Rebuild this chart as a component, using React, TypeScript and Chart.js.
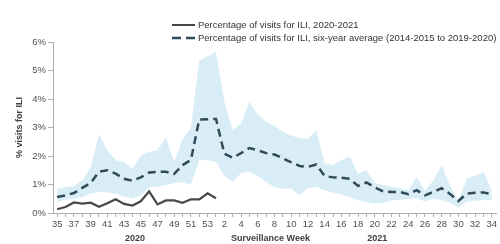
import React, { useEffect, useRef } from "react";
import { Chart, registerables } from "chart.js";

Chart.register(...registerables);

const weeks = [
  "35", "36", "37", "38", "39", "40", "41", "42", "43", "44", "45", "46", "47", "48", "49", "50", "51", "52", "53",
  "1", "2", "3", "4", "5", "6", "7", "8", "9", "10", "11", "12", "13", "14", "15", "16", "17", "18", "19", "20",
  "21", "22", "23", "24", "25", "26", "27", "28", "29", "30", "31", "32", "33", "34",
];

const current2020 = [
  0.13, 0.21, 0.37, 0.33, 0.36, 0.22, 0.34, 0.48, 0.32, 0.26, 0.41, 0.76, 0.30, 0.44, 0.44, 0.36, 0.48, 0.48, 0.69,
  0.52,
];

const sixYearAvg = [
  0.56, 0.62, 0.70, 0.88, 1.05, 1.45, 1.50, 1.38, 1.20, 1.13, 1.25, 1.42, 1.44, 1.45, 1.37, 1.68, 1.86, 3.28, 3.29,
  3.30, 2.08, 1.94, 2.10, 2.28, 2.20, 2.10, 2.05, 1.92, 1.78, 1.65, 1.62, 1.70, 1.30, 1.25, 1.24, 1.20, 0.95, 1.07,
  0.90, 0.76, 0.74, 0.74, 0.66, 0.80, 0.62, 0.74, 0.87, 0.67, 0.42, 0.68, 0.71, 0.72, 0.66,
];

const bandUpper = [
  0.85, 0.90, 0.95, 1.15, 1.60, 2.78, 2.20, 1.85, 1.78, 1.55, 2.00, 2.15, 2.20, 2.65, 1.78, 2.60, 3.00, 5.35, 5.50,
  5.65, 3.90, 2.90, 3.15, 3.90, 3.45, 3.20, 3.05, 2.85, 2.72, 2.62, 2.60, 2.90, 1.75, 1.68, 1.85, 1.98, 1.38, 1.52,
  1.05, 0.98, 0.92, 0.88, 0.80, 1.27, 0.78, 1.15, 1.68, 0.95, 0.42, 1.22, 1.30, 1.45, 0.78,
];

const bandLower = [
  0.38, 0.47, 0.50, 0.55, 0.68, 0.74, 0.73, 0.68, 0.58, 0.52, 0.62, 0.90, 0.92, 0.98, 1.05, 1.08, 1.00, 1.85, 1.85,
  1.80, 1.30, 1.10, 1.40, 1.45, 1.30, 1.10, 0.90, 0.85, 0.85, 0.62, 0.88, 0.92, 0.80, 0.72, 0.65, 0.55, 0.45, 0.38,
  0.33, 0.36, 0.45, 0.46, 0.50, 0.52, 0.40, 0.50, 0.46, 0.35, 0.18, 0.40, 0.42, 0.46, 0.46,
];

const yTickValues = [0, 1, 2, 3, 4, 5, 6];

const seriesLabels = [
  "Percentage of visits for ILI, 2020-2021",
  "Percentage of visits for ILI, six-year average (2014-2015 to 2019-2020)",
];

const yearLabels = ["2020", "2021"];
const xAxisTitle = "Surveillance Week";
const yAxisTitle = "% visits for ILI";

const FONT = '"Liberation Sans", Arial, sans-serif';
const SOLID_COLOR = "#484848";
const DASH_COLOR = "#2f4a58";
const BAND_COLOR = "#d9edf6";
const TEXT_COLOR = "#505050";
const AXIS_COLOR = "#b0b0b0";

const overlayPlugin = {
  id: "overlay",
  afterDraw(chart: any) {
    const ctx = chart.ctx;
    const xs = chart.scales.x;
    ctx.save();
    // legend
    ctx.font = `9.5px ${FONT}`;
    ctx.textBaseline = "middle";
    ctx.textAlign = "left";
    const lx0 = 172;
    const lx1 = 195;
    const rows = [25, 38];
    ctx.strokeStyle = SOLID_COLOR;
    ctx.lineWidth = 2;
    ctx.setLineDash([]);
    ctx.beginPath();
    ctx.moveTo(lx0, rows[0]);
    ctx.lineTo(lx1, rows[0]);
    ctx.stroke();
    ctx.fillStyle = "#333";
    ctx.fillText(seriesLabels[0], 198, rows[0]);
    ctx.strokeStyle = DASH_COLOR;
    ctx.lineWidth = 2.5;
    ctx.setLineDash([9, 5]);
    ctx.beginPath();
    ctx.moveTo(lx0, rows[1]);
    ctx.lineTo(lx1, rows[1]);
    ctx.stroke();
    ctx.setLineDash([]);
    ctx.fillText(seriesLabels[1], 198, rows[1]);

    // bottom labels
    ctx.font = `bold 9px ${FONT}`;
    ctx.fillStyle = "#404040";
    ctx.textAlign = "center";
    const by = xs.top + 26;
    ctx.fillText(yearLabels[0], xs.getPixelForValue(9.3), by);
    ctx.fillText(xAxisTitle, (chart.chartArea.left + chart.chartArea.right) / 2 - 4, by);
    ctx.fillText(yearLabels[1], xs.getPixelForValue(38.3), by);
    ctx.restore();
  },
};

export default function App() {
  const canvasRef = useRef<HTMLCanvasElement | null>(null);

  useEffect(() => {
    document.body.style.margin = "0";
    const canvas = canvasRef.current;
    if (!canvas) return;
    const chart = new Chart(canvas, {
      type: "line",
      data: {
        labels: weeks,
        datasets: [
          {
            label: seriesLabels[0],
            data: current2020,
            borderColor: SOLID_COLOR,
            borderWidth: 2.2,
            pointRadius: 0,
            tension: 0,
            fill: false,
            order: 0,
          },
          {
            label: seriesLabels[1],
            data: sixYearAvg,
            borderColor: DASH_COLOR,
            borderWidth: 2.5,
            borderDash: [8, 5],
            pointRadius: 0,
            tension: 0,
            fill: false,
            order: 1,
          },
          {
            label: "upper",
            data: bandUpper,
            borderColor: "rgba(0,0,0,0)",
            borderWidth: 0,
            backgroundColor: BAND_COLOR,
            pointRadius: 0,
            tension: 0,
            fill: "+1",
            order: 2,
          },
          {
            label: "lower",
            data: bandLower,
            borderColor: "rgba(0,0,0,0)",
            borderWidth: 0,
            pointRadius: 0,
            tension: 0,
            fill: false,
            order: 3,
          },
        ],
      },
      options: {
        animation: false,
        responsive: false,
        maintainAspectRatio: false,
        layout: { padding: { top: 42, right: 4, left: 0, bottom: 0 } },
        plugins: {
          legend: { display: false },
          tooltip: { enabled: false },
        },
        scales: {
          x: {
            offset: true,
            grid: {
              drawOnChartArea: false,
              drawTicks: true,
              tickLength: 4,
              color: AXIS_COLOR,
              offset: false,
            },
            border: { color: AXIS_COLOR },
            ticks: {
              autoSkip: false,
              maxRotation: 0,
              minRotation: 0,
              padding: 2,
              color: TEXT_COLOR,
              font: { family: FONT, size: 9.5 },
              callback: (_v: any, i: number) => (i % 2 === 0 ? weeks[i] : ""),
            },
            afterFit: (s: any) => {
              s.height = 31;
            },
          },
          y: {
            min: 0,
            max: 6,
            afterBuildTicks: (s: any) => {
              s.ticks = yTickValues.map((v) => ({ value: v }));
            },
            grid: {
              drawOnChartArea: false,
              drawTicks: true,
              tickLength: 5,
              color: AXIS_COLOR,
            },
            border: { color: AXIS_COLOR },
            ticks: {
              padding: 2,
              color: TEXT_COLOR,
              font: { family: FONT, size: 9.5 },
              callback: (v: any) => `${v}%`,
            },
            title: {
              display: true,
              text: yAxisTitle,
              color: "#404040",
              font: { family: FONT, size: 9, weight: "bold" },
              padding: { top: 14, bottom: 0 },
            },
            afterFit: (s: any) => {
              s.width = 53;
            },
          },
        },
      },
      plugins: [overlayPlugin],
    });
    return () => chart.destroy();
  }, []);

  return (
    <div style={{ width: 500, height: 244 }}>
      <canvas ref={canvasRef} width={500} height={244} style={{ display: "block" }} />
    </div>
  );
}
